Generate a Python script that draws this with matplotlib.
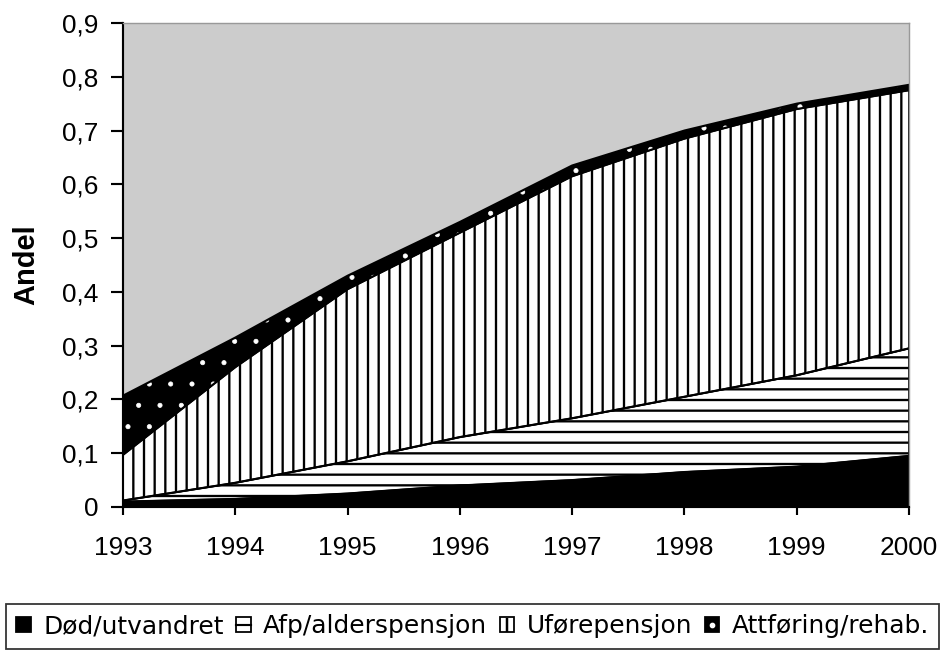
import numpy as np
import matplotlib
matplotlib.use('Agg')
import matplotlib.pyplot as plt
from matplotlib.patches import Patch
from matplotlib.lines import Line2D

years = [1993, 1994, 1995, 1996, 1997, 1998, 1999, 2000]
dod   = [0.010, 0.015, 0.025, 0.040, 0.050, 0.065, 0.075, 0.095]
afp   = [0.002, 0.030, 0.060, 0.090, 0.115, 0.140, 0.170, 0.200]
ufore = [0.085, 0.215, 0.320, 0.380, 0.450, 0.480, 0.495, 0.480]
attf  = [0.110, 0.055, 0.025, 0.020, 0.020, 0.015, 0.010, 0.010]
labels = ['Død/utvandret', 'Afp/alderspensjon', 'Uførepensjon', 'Attføring/rehab.']
yticks = [0, 0.1, 0.2, 0.3, 0.4, 0.5, 0.6, 0.7, 0.8, 0.9]
ytick_labels = ['0', '0,1', '0,2', '0,3', '0,4', '0,5', '0,6', '0,7', '0,8', '0,9']

plt.rcParams['font.family'] = ['Liberation Sans', 'DejaVu Sans']

fig = plt.figure(figsize=(941/128, 655/128), dpi=128)
ax = fig.add_axes([123/941, 1-507/655, (909-123)/941, (507-23)/655])
ax.set_facecolor('#cccccc')

c1 = np.array(dod)
c2 = c1 + np.array(afp)
c3 = c2 + np.array(ufore)
c4 = c3 + np.array(attf)

plt.rcParams['hatch.linewidth'] = 1.3
ax.fill_between(years, 0, c1, facecolor='black', edgecolor='black', lw=1)
ax.fill_between(years, c1, c2, facecolor='white', edgecolor='black', hatch='--', lw=1)
ax.fill_between(years, c2, c3, facecolor='white', edgecolor='black', hatch='||', lw=1)
plt.rcParams['hatch.linewidth'] = 0.4
ax.fill_between(years, c3, c4, facecolor='black', edgecolor='white', hatch='.', lw=0)
for c in (c1, c2, c3, c4):
    ax.plot(years, c, color='black', lw=1.2, solid_joinstyle='miter')

ax.set_xlim(1993, 2000)
ax.set_ylim(0, 0.9)
ax.set_xticks(years)
ax.set_yticks(yticks)
ax.set_yticklabels(ytick_labels)
ax.tick_params(axis='y', length=7, width=1.2, pad=7, labelsize=14.8, direction='out')
ax.tick_params(axis='x', length=4.5, width=1.2, pad=12, labelsize=14.8, direction='out')
ax.set_ylabel('Andel', fontsize=16.3, fontweight='bold', labelpad=12)
for s in ('top', 'right'):
    ax.spines[s].set_color('#999999')
for s in ('left', 'bottom'):
    ax.spines[s].set_color('black')
    ax.spines[s].set_linewidth(1.2)

# legend proxies drawn like the small Excel swatches
box_w = Patch(facecolor='white', edgecolor='black', lw=1)
box_b = Patch(facecolor='black', edgecolor='black', lw=1)
hline = Line2D([], [], color='black', lw=1.2)
vline = Line2D([], [], ls='none', marker='|', markersize=7.5, mec='black', mew=1.4)
dot = Line2D([], [], ls='none', marker='o', markersize=2.2, mfc='white', mec='white')
handles = [box_b, (box_w, hline), (box_w, vline), (box_b, dot)]

leg = fig.legend(handles, labels, ncol=4, loc='upper left',
                 bbox_to_anchor=(6/941, 1-604/655), numpoints=1,
                 prop={'family': 'DejaVu Sans', 'size': 14.0},
                 handlelength=0.58, handleheight=0.58, handletextpad=0.5,
                 columnspacing=0.5, borderaxespad=0, fancybox=False, frameon=True,
                 edgecolor='black', borderpad=0.42)
leg.get_frame().set_linewidth(1.0)

fig.savefig('out.png', dpi=128)
